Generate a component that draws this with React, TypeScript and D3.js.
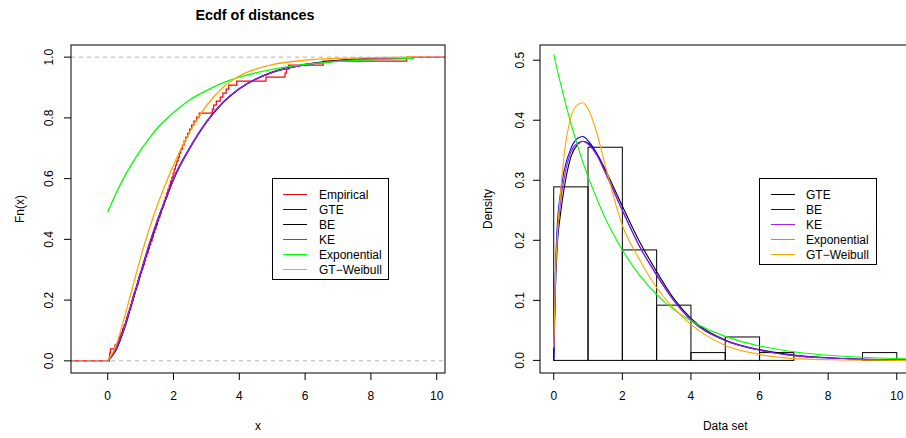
import React from 'react';
import * as d3 from 'd3';

// sorted sample of distances (n = 76), read from the ECDF steps
const distances = [
  0.05, 0.06, 0.08, 0.22, 0.3, 0.35, 0.4, 0.45, 0.5, 0.55, 0.58, 0.62, 0.66, 0.7, 0.73, 0.77, 0.8, 0.84, 0.88, 0.92, 0.95, 0.99,
  1.03, 1.07, 1.11, 1.15, 1.19, 1.23, 1.27, 1.31, 1.35, 1.39, 1.43, 1.47, 1.51, 1.55, 1.59, 1.63, 1.67, 1.71, 1.75, 1.79, 1.83, 1.87, 1.91, 1.95, 1.99,
  2.02, 2.06, 2.1, 2.14, 2.18, 2.22, 2.27, 2.32, 2.37, 2.43, 2.49, 2.55, 2.62, 2.7, 2.78, 3.18,
  3.22, 3.3, 3.42, 3.5, 3.6, 3.68, 3.92,
  4.81, 5.39, 5.43, 5.5, 6.55, 9.09,
];

// fitted CDFs (left panel)
const cdfX = [0, 0.25, 0.5, 0.75, 1, 1.25, 1.5, 1.75, 2, 2.5, 3, 3.5, 4, 5, 6, 7, 8, 9.3];
const cdfGTE = [0, 0.04, 0.11, 0.2, 0.29, 0.38, 0.46, 0.53, 0.6, 0.703, 0.787, 0.851, 0.896, 0.95, 0.975, 0.988, 0.994, 0.998];
const cdfBE = [0, 0.035, 0.105, 0.195, 0.285, 0.375, 0.455, 0.527, 0.597, 0.701, 0.786, 0.85, 0.896, 0.951, 0.976, 0.989, 0.995, 0.998];
const cdfKE = [0, 0.038, 0.108, 0.198, 0.288, 0.378, 0.458, 0.529, 0.599, 0.702, 0.787, 0.851, 0.896, 0.95, 0.975, 0.988, 0.994, 0.998];
const cdfExp = [0.49, 0.551, 0.605, 0.652, 0.694, 0.731, 0.765, 0.793, 0.818, 0.86, 0.89, 0.915, 0.934, 0.96, 0.976, 0.986, 0.991, 0.9955];
const cdfGTW = [0, 0.05, 0.14, 0.24, 0.34, 0.43, 0.51, 0.58, 0.645, 0.755, 0.84, 0.9, 0.938, 0.975, 0.99, 0.996, 0.998, 1.0];

// histogram (right panel)
const histBreaks = [0, 1, 2, 3, 4, 5, 6, 7, 8, 9, 10];
const histDensity = [0.289, 0.355, 0.184, 0.092, 0.013, 0.039, 0.013, 0, 0, 0.013];

// fitted densities (right panel)
const denX = [0, 0.05, 0.1, 0.2, 0.3, 0.5, 0.7, 0.85, 1, 1.25, 1.5, 2, 2.5, 3, 3.5, 4, 5, 6, 7, 8, 9, 10, 10.4];
const denGTE = [0, 0.12, 0.187, 0.245, 0.285, 0.339, 0.36, 0.365, 0.362, 0.345, 0.318, 0.257, 0.198, 0.148, 0.103, 0.07, 0.034, 0.018, 0.009, 0.0045, 0.002, 0.001, 0.0008];
const denBE = [0, 0.15, 0.22, 0.28, 0.315, 0.353, 0.37, 0.373, 0.366, 0.345, 0.314, 0.25, 0.19, 0.142, 0.1, 0.067, 0.033, 0.017, 0.008, 0.004, 0.002, 0.001, 0.0008];
const denKE = [0.02, 0.14, 0.2, 0.265, 0.302, 0.347, 0.362, 0.365, 0.36, 0.342, 0.313, 0.25, 0.19, 0.143, 0.1, 0.068, 0.033, 0.017, 0.008, 0.004, 0.002, 0.001, 0.0008];
const denExp = [0.51, 0.497, 0.485, 0.461, 0.438, 0.395, 0.357, 0.33, 0.306, 0.27, 0.237, 0.184, 0.142, 0.11, 0.085, 0.066, 0.04, 0.024, 0.0144, 0.0086, 0.0052, 0.0031, 0.0025];
const denGTW = [0.022, 0.14, 0.2, 0.28, 0.34, 0.405, 0.426, 0.429, 0.419, 0.38, 0.325, 0.225, 0.168, 0.121, 0.087, 0.06, 0.025, 0.01, 0.003, 0.001, 0.0003, 0.0001, 0];

const leftTicksX = [0, 2, 4, 6, 8, 10];
const leftTicksY = [0, 0.2, 0.4, 0.6, 0.8, 1.0];
const rightTicksX = [0, 2, 4, 6, 8, 10];
const rightTicksY = [0, 0.1, 0.2, 0.3, 0.4, 0.5];

const leftLegend = [
  { label: 'Empirical', color: '#ff0000' },
  { label: 'GTE', color: '#0000ff' },
  { label: 'BE', color: '#000000' },
  { label: 'KE', color: '#a020f0' },
  { label: 'Exponential', color: '#00ff00' },
  { label: 'GT\u2212Weibull', color: '#ffa500' },
];
const rightLegend = [
  { label: 'GTE', color: '#000000' },
  { label: 'BE', color: '#0000ff' },
  { label: 'KE', color: '#a020f0' },
  { label: 'Exponential', color: '#00ff00' },
  { label: 'GT\u2212Weibull', color: '#ffa500' },
];

const FONT = '"Liberation Sans", Arial, Helvetica, sans-serif';

const L = { x0: 71, x1: 445, y0: 45, y1: 373 };
const R = { x0: 540, x1: 910.5, y0: 45, y1: 373 };

const xL = d3.scaleLinear().domain([-1.116, 10.252]).range([L.x0, L.x1]);
const yL = d3.scaleLinear().domain([-0.04, 1.04]).range([L.y1, L.y0]);
const xR = d3.scaleLinear().domain([-0.4, 10.4]).range([R.x0, R.x1]);
const yR = d3.scaleLinear().domain([-0.021, 0.5253]).range([R.y1, R.y0]);

const curve = (xs: number[], ys: number[], sx: any, sy: any) =>
  d3.line<number>()
    .x((_, i) => sx(xs[i]))
    .y((d) => sy(d))
    .curve(d3.curveMonotoneX)(ys) || '';

export default function App() {
  const n = distances.length;
  const ecdfPts: [number, number][] = [[xL.domain()[0], 0]];
  distances.forEach((d, i) => ecdfPts.push([d, (i + 1) / n]));
  ecdfPts.push([xL.domain()[1], 1]);
  const ecdfPath = d3.line<[number, number]>()
    .x((d) => xL(d[0]))
    .y((d) => yL(d[1]))
    .curve(d3.curveStepAfter)(ecdfPts) || '';

  const leftCurves = [
    { ys: cdfGTE, color: '#0000ff' },
    { ys: cdfBE, color: '#000000' },
    { ys: cdfKE, color: '#a020f0' },
    { ys: cdfExp, color: '#00ff00' },
    { ys: cdfGTW, color: '#ffa500' },
  ];
  const rightCurves = [
    { ys: denGTE, color: '#000000' },
    { ys: denBE, color: '#0000ff' },
    { ys: denKE, color: '#a020f0' },
    { ys: denExp, color: '#00ff00' },
    { ys: denGTW, color: '#ffa500' },
  ];

  return (
    <svg width={906} height={438} style={{ position: 'absolute', left: 0, top: 0, background: '#fff' }}
      fontFamily={FONT}>
      <defs>
        <clipPath id="clipL"><rect x={L.x0} y={L.y0} width={L.x1 - L.x0} height={L.y1 - L.y0} /></clipPath>
        <clipPath id="clipR"><rect x={R.x0} y={R.y0} width={R.x1 - R.x0} height={R.y1 - R.y0} /></clipPath>
      </defs>

      {/* ---------- left panel: ECDF ---------- */}
      <text x={255} y={20} textAnchor="middle" fontWeight="bold" fontSize={14.4}>Ecdf of distances</text>
      <g clipPath="url(#clipL)">
        <path d={ecdfPath} fill="none" stroke="#ff0000" strokeWidth={1.2} />
        {leftCurves.map((c, i) => (
          <path key={i} d={curve(cdfX, c.ys, xL, yL)} fill="none" stroke={c.color} strokeWidth={1.3} />
        ))}
        {[0, 1].map((v) => (
          <line key={v} x1={L.x0} x2={L.x1} y1={yL(v)} y2={yL(v)} stroke="#b3b3b3" strokeDasharray="4,4" />
        ))}
      </g>
      <rect x={L.x0} y={L.y0} width={L.x1 - L.x0} height={L.y1 - L.y0} fill="none" stroke="#000" />
      {leftTicksX.map((t) => (
        <g key={t}>
          <line x1={xL(t)} x2={xL(t)} y1={L.y1} y2={L.y1 + 7} stroke="#000" />
          <text x={xL(t)} y={399.5} textAnchor="middle" fontSize={12}>{t}</text>
        </g>
      ))}
      {leftTicksY.map((t) => (
        <g key={t}>
          <line x1={L.x0 - 7} x2={L.x0} y1={yL(t)} y2={yL(t)} stroke="#000" />
          <text transform={`translate(53,${yL(t)}) rotate(-90)`} textAnchor="middle" fontSize={12}>{t.toFixed(1)}</text>
        </g>
      ))}
      <text x={(L.x0 + L.x1) / 2} y={430} textAnchor="middle" fontSize={12}>x</text>
      <text transform={`translate(24,${(L.y0 + L.y1) / 2}) rotate(-90)`} textAnchor="middle" fontSize={12}>Fn(x)</text>

      <g>
        <rect x={272.5} y={178.5} width={116} height={101} fill="#fff" stroke="#000" />
        {leftLegend.map((e, i) => (
          <g key={e.label}>
            <line x1={283} x2={307} y1={194.5 + i * 15} y2={194.5 + i * 15} stroke={e.color} />
            <text x={319} y={194.5 + i * 15 + 4.3} fontSize={12}>{e.label}</text>
          </g>
        ))}
      </g>

      {/* ---------- right panel: histogram + densities ---------- */}
      <g clipPath="url(#clipR)">
        {histDensity.map((d, i) => (
          <rect key={i} x={xR(histBreaks[i])} y={yR(d)} width={xR(histBreaks[i + 1]) - xR(histBreaks[i])}
            height={yR(0) - yR(d)} fill="none" stroke="#000" />
        ))}
        {rightCurves.map((c, i) => (
          <path key={i} d={curve(denX, c.ys, xR, yR)} fill="none" stroke={c.color} strokeWidth={1.1} />
        ))}
      </g>
      <rect x={R.x0} y={R.y0} width={R.x1 - R.x0} height={R.y1 - R.y0} fill="none" stroke="#000" />
      {rightTicksX.map((t) => (
        <g key={t}>
          <line x1={xR(t)} x2={xR(t)} y1={R.y1} y2={R.y1 + 7} stroke="#000" />
          <text x={xR(t)} y={399.5} textAnchor="middle" fontSize={12}>{t}</text>
        </g>
      ))}
      {rightTicksY.map((t) => (
        <g key={t}>
          <line x1={R.x0 - 7} x2={R.x0} y1={yR(t)} y2={yR(t)} stroke="#000" />
          <text transform={`translate(523.5,${yR(t)}) rotate(-90)`} textAnchor="middle" fontSize={12}>{t.toFixed(1)}</text>
        </g>
      ))}
      <text x={(R.x0 + R.x1) / 2} y={430} textAnchor="middle" fontSize={12}>Data set</text>
      <text transform={`translate(492,${(R.y0 + R.y1) / 2}) rotate(-90)`} textAnchor="middle" fontSize={12}>Density</text>

      <g>
        <rect x={759.5} y={178.5} width={117} height={86} fill="#fff" stroke="#000" />
        {rightLegend.map((e, i) => (
          <g key={e.label}>
            <line x1={771} x2={795} y1={194.5 + i * 15} y2={194.5 + i * 15} stroke={e.color} />
            <text x={806} y={194.5 + i * 15 + 4.3} fontSize={12}>{e.label}</text>
          </g>
        ))}
      </g>
    </svg>
  );
}
